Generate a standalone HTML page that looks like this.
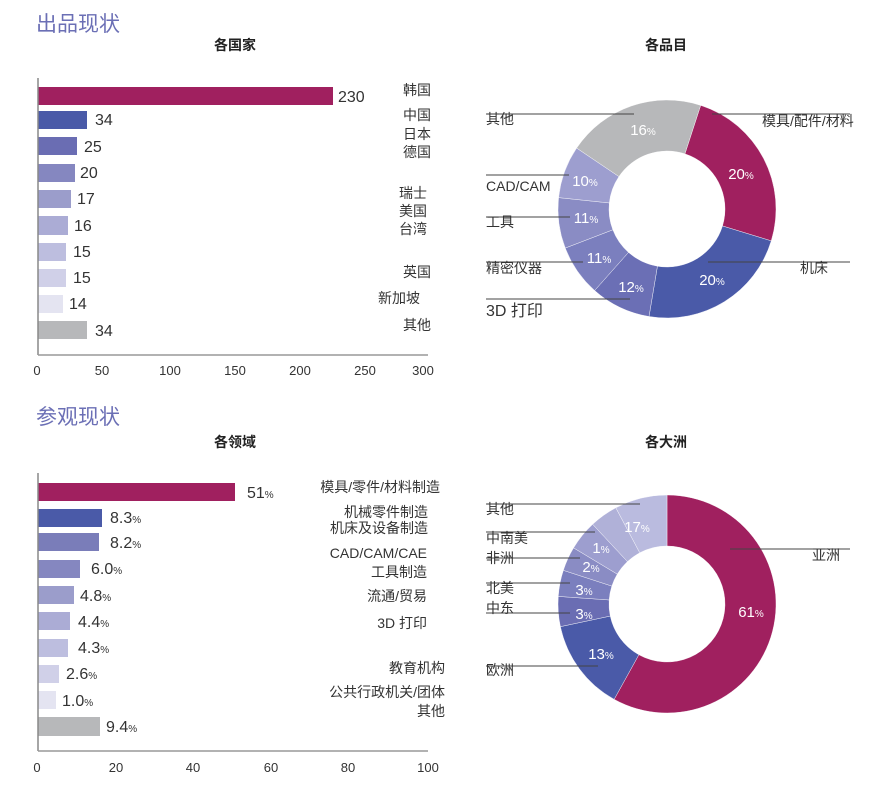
<!DOCTYPE html>
<html><head><meta charset="utf-8"><style>
body{margin:0;background:#fff;}
svg{display:block;font-family:"Liberation Sans","Noto Sans CJK SC",sans-serif;}
.t{fill:#333;font-size:14px;}
.v{fill:#333;font-size:16px;}
.k{fill:#333;font-size:13px;}
.w{fill:#fff;font-size:15px;text-anchor:middle;}
.w tspan{font-size:10px;}
.h{fill:#6b6fb5;font-size:21px;}
.b{fill:#222;font-size:14px;font-weight:bold;text-anchor:middle;}
</style></head><body>
<svg id="s" width="891" height="798" viewBox="0 0 891 798">
<text class="h" x="36" y="31">出品现状</text>
<text class="b" x="235" y="50">各国家</text>
<text class="b" x="666" y="50">各品目</text>
<text class="h" x="36" y="424">参观现状</text>
<text class="b" x="235" y="447">各领域</text>
<text class="b" x="666" y="447">各大洲</text>

<!-- chart 1 -->
<g>
<rect x="38" y="87" width="295" height="18" fill="#a0205f"/>
<rect x="38" y="111" width="49" height="18" fill="#4a5aa8"/>
<rect x="38" y="137" width="39" height="18" fill="#6a6db3"/>
<rect x="38" y="164" width="37" height="18" fill="#8587c0"/>
<rect x="38" y="190" width="33" height="18" fill="#9b9dcb"/>
<rect x="38" y="216" width="30" height="19" fill="#abacd5"/>
<rect x="38" y="243" width="28" height="18" fill="#bdbedf"/>
<rect x="38" y="269" width="28" height="18" fill="#d0d0e8"/>
<rect x="38" y="295" width="25" height="18" fill="#e4e4f1"/>
<rect x="38" y="321" width="49" height="18" fill="#b7b8ba"/>
<line x1="38" y1="78" x2="38" y2="355" stroke="#888" stroke-width="1.5"/>
<line x1="38" y1="355" x2="428" y2="355" stroke="#999" stroke-width="1.5"/>
<text class="v" x="338" y="102">230</text>
<text class="v" x="95" y="125">34</text>
<text class="v" x="84" y="152">25</text>
<text class="v" x="80" y="178">20</text>
<text class="v" x="77" y="204">17</text>
<text class="v" x="74" y="231">16</text>
<text class="v" x="73" y="257">15</text>
<text class="v" x="73" y="283">15</text>
<text class="v" x="69" y="309">14</text>
<text class="v" x="95" y="336">34</text>
<g class="k" text-anchor="middle">
<text x="37" y="375">0</text><text x="102" y="375">50</text><text x="170" y="375">100</text><text x="235" y="375">150</text><text x="300" y="375">200</text><text x="365" y="375">250</text><text x="423" y="375">300</text>
</g>
<g class="t" text-anchor="end">
<text x="431" y="95">韩国</text>
<text x="431" y="120">中国</text>
<text x="431" y="139">日本</text>
<text x="431" y="157">德国</text>
<text x="427" y="198">瑞士</text>
<text x="427" y="216">美国</text>
<text x="427" y="234">台湾</text>
<text x="431" y="277">英国</text>
<text x="420" y="303">新加坡</text>
<text x="431" y="330">其他</text>
</g>
</g>

<!-- chart 2 -->
<g>
<rect x="38" y="483" width="197" height="18" fill="#a0205f"/>
<rect x="38" y="509" width="64" height="18" fill="#4a5aa8"/>
<rect x="38" y="533" width="61" height="18" fill="#7a7db9"/>
<rect x="38" y="560" width="42" height="18" fill="#8587c0"/>
<rect x="38" y="586" width="36" height="18" fill="#9b9dcb"/>
<rect x="38" y="612" width="32" height="18" fill="#abacd5"/>
<rect x="38" y="639" width="30" height="18" fill="#bdbedf"/>
<rect x="38" y="665" width="21" height="18" fill="#d0d0e8"/>
<rect x="38" y="691" width="18" height="18" fill="#e4e4f1"/>
<rect x="38" y="717" width="62" height="19" fill="#b7b8ba"/>
<line x1="38" y1="473" x2="38" y2="751" stroke="#888" stroke-width="1.5"/>
<line x1="38" y1="751" x2="428" y2="751" stroke="#999" stroke-width="1.5"/>
<g class="v">
<text x="247" y="498">51<tspan font-size="10">%</tspan></text>
<text x="110" y="523">8.3<tspan font-size="10">%</tspan></text>
<text x="110" y="548">8.2<tspan font-size="10">%</tspan></text>
<text x="91" y="574">6.0<tspan font-size="10">%</tspan></text>
<text x="80" y="601">4.8<tspan font-size="10">%</tspan></text>
<text x="78" y="627">4.4<tspan font-size="10">%</tspan></text>
<text x="78" y="653">4.3<tspan font-size="10">%</tspan></text>
<text x="66" y="679">2.6<tspan font-size="10">%</tspan></text>
<text x="62" y="706">1.0<tspan font-size="10">%</tspan></text>
<text x="106" y="732">9.4<tspan font-size="10">%</tspan></text>
</g>
<g class="k" text-anchor="middle">
<text x="37" y="772">0</text><text x="116" y="772">20</text><text x="193" y="772">40</text><text x="271" y="772">60</text><text x="348" y="772">80</text><text x="428" y="772">100</text>
</g>
<g class="t" text-anchor="end">
<text x="440" y="492">模具/零件/材料制造</text>
<text x="428" y="517">机械零件制造</text>
<text x="428" y="533">机床及设备制造</text>
<text x="427" y="558">CAD/CAM/CAE</text>
<text x="427" y="577">工具制造</text>
<text x="427" y="601">流通/贸易</text>
<text x="427" y="628">3D 打印</text>
<text x="445" y="673">教育机构</text>
<text x="445" y="697">公共行政机关/团体</text>
<text x="445" y="716">其他</text>
</g>
</g>

<g id="d1"></g>
<g id="d2"></g>

<g stroke="#444" stroke-width="1">
<line x1="486" y1="114" x2="634" y2="114"/>
<line x1="712" y1="114" x2="850" y2="114"/>
<line x1="486" y1="175" x2="569" y2="175"/>
<line x1="486" y1="217" x2="570" y2="217"/>
<line x1="486" y1="262" x2="583" y2="262"/>
<line x1="486" y1="299" x2="630" y2="299"/>
<line x1="708" y1="262" x2="850" y2="262"/>
<line x1="486" y1="504" x2="640" y2="504"/>
<line x1="486" y1="532" x2="595" y2="532"/>
<line x1="486" y1="558" x2="580" y2="558"/>
<line x1="486" y1="583" x2="570" y2="583"/>
<line x1="486" y1="613" x2="570" y2="613"/>
<line x1="486" y1="666" x2="598" y2="666"/>
<line x1="730" y1="549" x2="850" y2="549"/>
</g>
<g class="t">
<text x="486" y="124">其他</text>
<text x="762" y="126">模具/配件/材料</text>
<text x="486" y="191">CAD/CAM</text>
<text x="486" y="227">工具</text>
<text x="486" y="273">精密仪器</text>
<text x="486" y="316" font-size="16">3D 打印</text>
<text x="800" y="273">机床</text>
<text x="486" y="514">其他</text>
<text x="486" y="543">中南美</text>
<text x="486" y="563">非洲</text>
<text x="486" y="593">北美</text>
<text x="486" y="613">中东</text>
<text x="486" y="675">欧洲</text>
<text x="812" y="560">亚洲</text>
</g>
<g class="w">
<text x="643" y="135">16<tspan>%</tspan></text>
<text x="741" y="179">20<tspan>%</tspan></text>
<text x="585" y="186">10<tspan>%</tspan></text>
<text x="586" y="223">11<tspan>%</tspan></text>
<text x="599" y="263">11<tspan>%</tspan></text>
<text x="631" y="292">12<tspan>%</tspan></text>
<text x="712" y="285">20<tspan>%</tspan></text>
<text x="637" y="532">17<tspan>%</tspan></text>
<text x="601" y="553">1<tspan>%</tspan></text>
<text x="591" y="572">2<tspan>%</tspan></text>
<text x="584" y="595">3<tspan>%</tspan></text>
<text x="584" y="619">3<tspan>%</tspan></text>
<text x="601" y="659">13<tspan>%</tspan></text>
<text x="751" y="617">61<tspan>%</tspan></text>
</g>
</svg>
<script>
function arc(g,cx,cy,R,r,segs){
  var ns="http://www.w3.org/2000/svg",el=document.getElementById(g);
  function p(a,rr){var t=(a-90)*Math.PI/180;return (cx+rr*Math.cos(t)).toFixed(2)+","+(cy+rr*Math.sin(t)).toFixed(2);}
  segs.forEach(function(s){
    var a0=s[0],a1=s[1],lg=(a1-a0)>180?1:0;
    var d="M"+p(a0,R)+"A"+R+","+R+" 0 "+lg+" 1 "+p(a1,R)+"L"+p(a1,r)+"A"+r+","+r+" 0 "+lg+" 0 "+p(a0,r)+"Z";
    var e=document.createElementNS(ns,"path");e.setAttribute("d",d);e.setAttribute("fill",s[2]);
    e.setAttribute("stroke","#fff");e.setAttribute("stroke-width","0.4");el.appendChild(e);
  });
}
arc("d1",667,209,109,58,[[18,107,"#a0205f"],[107,189.5,"#4a5aa8"],[189.5,221.6,"#6b6fb5"],[221.6,249,"#7b7fbe"],[249,276,"#8a8cc4"],[276,304,"#9d9ecf"],[304,378,"#b7b8ba"]]);
arc("d2",667,604,109,58,[[0,209,"#a0205f"],[209,258,"#4a5aa8"],[258,274,"#6a6db3"],[274,288,"#7b7fbe"],[288,301,"#8a8cc4"],[301,317,"#9d9ecf"],[317,332,"#b0b1d8"],[332,360,"#babbdf"]]);
</script>
</body></html>
